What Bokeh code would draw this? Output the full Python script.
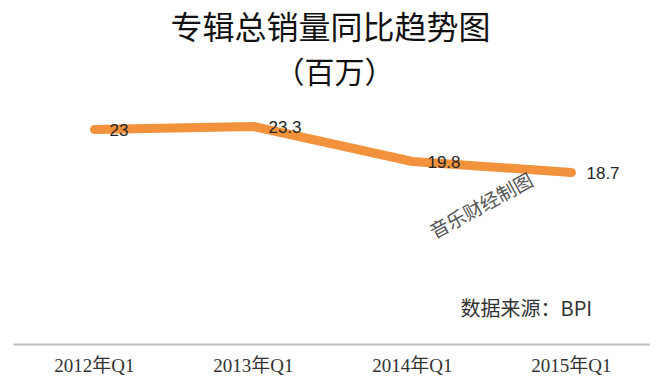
from bokeh.plotting import figure
from bokeh.models import Range1d, FixedTicker, Label, ColumnDataSource
from bokeh.core.properties import value
from bokeh.embed import file_html
from bokeh.resources import INLINE

categories = ["2012年Q1", "2013年Q1", "2014年Q1", "2015年Q1"]
sales = [23, 23.3, 19.8, 18.7]
value_labels = ["23", "23.3", "19.8", "18.7"]
title_line1 = "专辑总销量同比趋势图"
title_line2 = "（百万）"
source_note = "数据来源：BPI"
watermark = "音乐财经制图"

xs = list(range(len(categories)))
src = ColumnDataSource(dict(x=xs, y=sales, lab=value_labels))

p = figure(width=650, height=385, output_backend="svg", toolbar_location=None,
           x_range=Range1d(-0.509, 3.497), y_range=Range1d(1.5, 35.9),
           y_axis_location=None, min_border_left=13, min_border_right=0,
           min_border_top=0, min_border_bottom=41)
p.outline_line_color = None
p.xgrid.visible = False
p.ygrid.visible = False
p.background_fill_color = "white"
p.border_fill_color = "white"

p.line("x", "y", source=src, line_color="#F2923C", line_width=9,
       line_cap="round", line_join="round")
p.text("x", "y", text="lab", source=src, x_offset=15, text_align="left",
       text_baseline="middle", text_font=value("Liberation Sans"),
       text_font_size="17px", text_color="#262626")

ax = p.xaxis[0]
ax.ticker = FixedTicker(ticks=xs)
ax.major_label_overrides = {i: c for i, c in zip(xs, categories)}
ax.major_tick_line_color = None
ax.minor_tick_line_color = None
ax.major_tick_out = 0
ax.major_tick_in = 0
ax.axis_line_color = "#BFBFBF"
ax.axis_line_width = 2
ax.major_label_standoff = 10
ax.major_label_text_font = "Liberation Serif, Noto Sans CJK SC"
ax.major_label_text_font_size = "19px"
ax.major_label_text_color = "#333333"

common = dict(x_units="screen", y_units="screen", text_align="center",
              text_baseline="middle", text_font="Noto Sans CJK SC")
p.add_layout(Label(x=317, y=320, text=title_line1, text_font_size="32px",
                   text_color="#111111", **common))
p.add_layout(Label(x=321, y=275, text=title_line2, text_font_size="30px",
                   text_color="#111111", **common))
p.add_layout(Label(x=447, y=37, text=source_note, x_units="screen", y_units="screen",
                   text_align="left", text_baseline="middle",
                   text_font="Noto Sans CJK SC", text_font_size="20px",
                   text_color="#333333"))
p.add_layout(Label(x=467, y=140, text=watermark, angle=0.5, text_font_size="19px",
                   text_color="#555555", **common))

open("out.html", "w").write(file_html(p, INLINE))
